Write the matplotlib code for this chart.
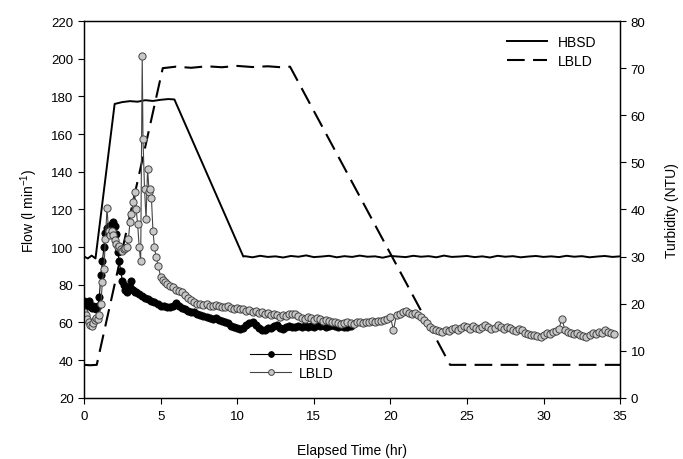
import matplotlib
matplotlib.use("Agg")
import matplotlib.pyplot as plt
import numpy as np

plt.rcParams['font.family'] = ['Liberation Sans', 'DejaVu Sans']
plt.rcParams['mathtext.fontset'] = 'custom'
plt.rcParams['mathtext.rm'] = 'Liberation Sans'
plt.rcParams['font.size'] = 9.5

# flow (left axis, l/min)
hbsd_flow_t = [0, 0.25, 0.5, 0.75, 2.0, 2.5, 3.0, 3.5, 4.0, 4.5, 5.0, 5.5, 5.9, 10.4]
hbsd_flow = [95, 94, 95.5, 94, 176, 177, 177.5, 177.2, 178, 177.6, 178.2, 178.6, 178.4, 95]
hbsd_flow_t_flat = np.arange(10.5, 35.01, 0.5)
hbsd_flow_flat = [95.2, 94.6, 95.4, 94.8, 95.1, 94.5, 95.3, 94.9, 95.6, 94.7,
                  95.0, 95.4, 94.6, 95.2, 94.8, 95.5, 94.9, 95.1, 94.4, 95.3,
                  95.0, 94.7, 95.4, 94.9, 95.2, 94.6, 95.5, 94.8, 95.0, 95.3,
                  94.7, 95.1, 94.5, 95.4, 94.9, 95.2, 94.6, 95.0, 95.3, 94.8,
                  95.1, 94.7, 95.4, 94.9, 95.2, 94.6, 95.0, 95.3, 94.8, 95.1]

lbld_flow_t = [0, 0.4, 0.83, 5.14, 6, 7, 8, 9, 10, 11, 12, 13, 13.45, 23.9, 35]
lbld_flow = [37.5, 37.3, 37.5, 195, 195.8, 195.2, 196.0, 195.5, 196.2, 195.6,
             196.0, 195.4, 195.8, 37.5, 37.5]

# turbidity (right axis, NTU)
hbsd_turb_t_early = np.round(np.arange(0.0, 3.41, 0.1), 2)
hbsd_turb_early = [20.5, 20.0, 19.5, 20.5, 19.5, 19.0, 19.5, 19.0, 18.8, 19.5,
                   21.5, 26.0, 29.0, 32.0, 35.0, 36.0, 36.5, 36.0, 37.0, 37.3,
                   36.5, 34.8, 31.0, 29.0, 27.0, 24.8, 24.0, 23.0, 22.5, 22.8,
                   23.5, 24.8, 23.0, 22.5, 22.4]
hbsd_turb_t_late = np.round(np.arange(3.6, 17.41, 0.2), 2)
hbsd_turb_late = [22.0, 21.6, 21.2, 21.0, 20.6, 20.3, 20.0, 19.6, 19.6, 19.3,
                  19.2, 19.4, 20.2, 19.6, 19.0, 18.8, 18.4, 18.2, 18.3, 17.8,
                  17.6, 17.3, 17.2, 17.0, 16.8, 16.9, 16.5, 16.3, 16.0, 15.8,
                  15.3, 15.1, 14.8, 14.6, 14.8, 15.4, 15.9, 16.0, 15.5, 14.8,
                  14.3, 14.4, 14.9, 14.8, 15.2, 15.4, 14.9, 14.6, 15.0, 15.3,
                  15.0, 15.1, 15.3, 15.0, 15.2, 15.0, 15.3, 15.1, 15.4, 15.2,
                  15.5, 15.1, 15.3, 15.5, 15.2, 15.0, 15.3, 15.1, 15.0, 15.2]

lbld_turb_t_early = [0.0, 0.1, 0.2, 0.3, 0.4, 0.5, 0.6, 0.7, 0.8, 0.9, 1.0,
                     1.1, 1.2, 1.3, 1.4, 1.5, 1.6, 1.7, 1.8, 1.9, 2.0,
                     2.1, 2.2, 2.3, 2.4, 2.5, 2.6, 2.7, 2.8, 2.9, 3.0,
                     3.1, 3.2, 3.3, 3.4, 3.5, 3.6, 3.7, 3.8, 3.85, 3.95,
                     4.05, 4.15, 4.25, 4.3, 4.4, 4.5, 4.6, 4.7, 4.85, 5.0,
                     5.15, 5.3, 5.45, 5.6]
lbld_turb_early = [18.2, 17.5, 16.8, 16.2, 15.5, 15.3, 15.8, 16.5, 17.0, 16.8, 17.5,
                   20.0, 24.6, 27.4, 33.7, 40.3, 35.5, 34.5, 35.5, 34.5, 33.5,
                   32.7, 32.0, 32.2, 31.6, 31.2, 31.5, 31.8, 32.0, 33.7, 37.3,
                   39.0, 41.6, 43.7, 40.0, 37.0, 32.0, 29.0, 72.5, 55.0, 44.4,
                   38.0, 48.6, 43.7, 44.4, 42.5, 35.5, 32.0, 30.0, 28.0, 25.7,
                   25.0, 24.6, 24.2, 23.8]
lbld_turb_t_late = np.round(np.arange(5.8, 34.61, 0.2), 2)
lbld_turb_late = [23.5,
                  23.0, 22.7, 22.4, 21.8, 21.2, 20.8, 20.3, 20.0, 19.9, 19.8,
                  19.9, 19.6, 19.5, 19.7, 19.6, 19.3, 19.2, 19.4, 19.0, 18.9,
                  19.1, 18.8, 18.9, 18.5, 18.7, 18.3, 18.4, 18.0, 18.2, 17.8,
                  18.0, 17.6, 17.9, 17.5, 17.2, 17.5, 17.4, 17.7, 17.9, 17.8,
                  17.3, 17.0, 16.8, 17.2, 16.9, 16.6, 17.0, 16.8, 16.4, 16.6,
                  16.3, 16.0, 16.2, 15.8, 15.7, 15.9, 16.1, 15.8, 15.6, 16.0,
                  16.1, 15.9, 16.2, 16.0, 16.3, 16.1, 16.4, 16.3, 16.6, 16.8,
                  17.2, 14.4, 17.6, 17.9, 18.2, 18.5, 18.1, 17.8, 18.0, 17.6,
                  17.2, 16.5, 15.8, 15.1, 14.6, 14.4, 14.2, 14.0, 14.3, 14.1,
                  14.6, 14.9, 14.5, 14.8, 15.2, 15.0, 14.7, 15.3, 14.9, 14.6,
                  15.0, 15.4, 15.0, 14.7, 14.9, 15.4, 15.0, 14.6, 15.0, 14.8,
                  14.5, 14.2, 14.6, 14.3, 13.8, 13.6, 13.3, 13.4, 13.1, 13.0,
                  13.4, 13.8, 13.5, 13.9, 14.2, 14.6, 16.8, 14.3, 14.0, 13.7,
                  13.5, 13.7, 13.4, 13.1, 13.0, 13.4, 13.8, 13.6, 14.0, 13.7,
                  14.3, 14.0, 13.8, 13.6]

hbsd_turb_t = np.concatenate([hbsd_turb_t_early, hbsd_turb_t_late])
hbsd_turb = hbsd_turb_early + hbsd_turb_late
lbld_turb_t = np.concatenate([lbld_turb_t_early, lbld_turb_t_late])
lbld_turb = lbld_turb_early + lbld_turb_late

fig = plt.figure(figsize=(6.83, 4.6), dpi=100)
ax = fig.add_axes([0.123, 0.133, 0.785, 0.819])
ax2 = ax.twinx()

ax.plot(np.concatenate([hbsd_flow_t, hbsd_flow_t_flat]), hbsd_flow + hbsd_flow_flat,
        color='black', lw=1.4, label='HBSD')
ax.plot(lbld_flow_t, lbld_flow, color='black', lw=1.5, dashes=(8.5, 4), label='LBLD')

ax2.plot(hbsd_turb_t, hbsd_turb, '-o', color='black', lw=0.8, ms=5.2,
         mfc='black', mec='black', mew=0.6, label='HBSD')
ax2.plot(lbld_turb_t, lbld_turb, '-o', color='#444444', lw=0.8, ms=5.2,
         mfc='#c8c8c8', mec='#444444', mew=0.7, label='LBLD')

ax.set_xlim(0, 35)
ax.set_ylim(20, 220)
ax2.set_ylim(0, 80)
ax.set_xticks(range(0, 36, 5))
ax.set_yticks(range(20, 221, 20))
ax2.set_yticks(range(0, 81, 10))

for a in (ax, ax2):
    a.tick_params(direction='out', length=4, width=0.8, labelsize=9.5)
    for s in a.spines.values():
        s.set_linewidth(0.9)
ax.tick_params(axis='x', pad=5)

ax.set_xlabel('Elapsed Time (hr)', fontsize=10, labelpad=15)
ax.set_ylabel('Flow (l min$^{\\mathregular{-1}}$)', fontsize=10, labelpad=8)
ax2.set_ylabel('Turbidity (NTU)', fontsize=10, labelpad=14)

ax.legend(loc='center left', bbox_to_anchor=(0.766, 0.919), frameon=False,
          handlelength=2.9, handletextpad=0.75, labelspacing=0.35, fontsize=10)
ax2.legend(loc='center left', bbox_to_anchor=(0.287, 0.090), frameon=False,
           handlelength=2.9, handletextpad=0.6, labelspacing=0.3, fontsize=10,
           numpoints=1, markerscale=0.8)

fig.savefig('out.png', dpi=100)
